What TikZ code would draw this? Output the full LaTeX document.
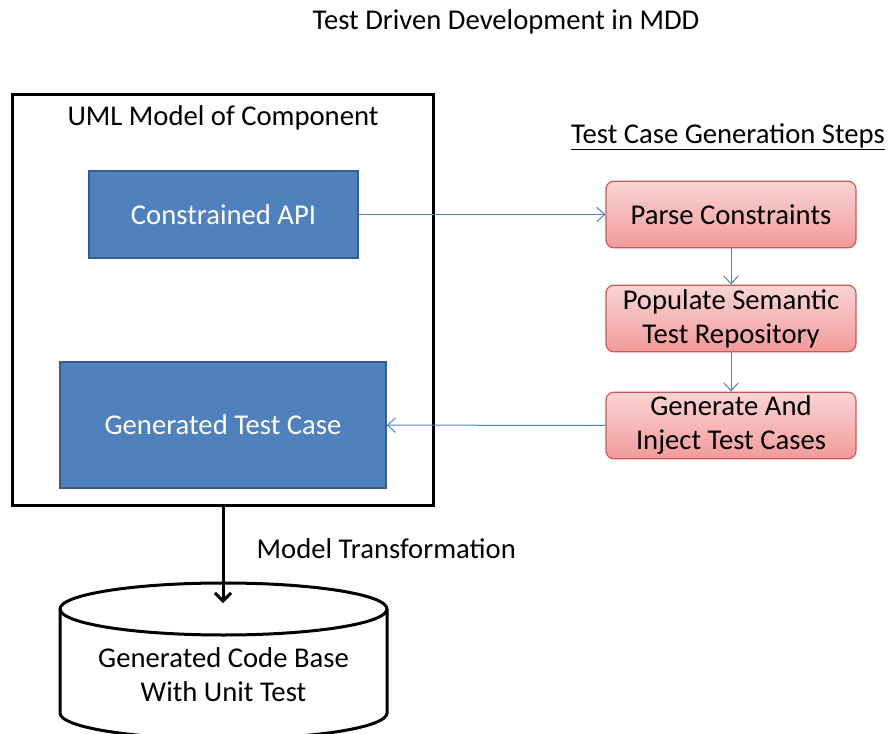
\documentclass[tikz,border=0pt]{standalone}
\usepackage{fontspec}
\setmainfont{Carlito}
\usetikzlibrary{arrows.meta}

\definecolor{apiblue}{HTML}{4F81BD}
\definecolor{apiedge}{HTML}{385D8A}
\definecolor{steptop}{HTML}{FAD4D4}
\definecolor{stepbot}{HTML}{F29A9A}
\definecolor{stepedge}{HTML}{C9595A}

\tikzset{
  apibox/.style={draw=apiedge, line width=1.2pt, fill=apiblue, text=white},
  stepbox/.style={draw=stepedge, line width=0.9pt, rounded corners=6pt,
    top color=steptop, bottom color=stepbot, align=center,
    minimum width=187.5pt, minimum height=50pt, inner sep=1pt},
  flow/.style={draw=apiblue, line width=0.75pt, -{Straight Barb[length=6pt,width=11pt]}},
  heavy/.style={line width=2.25pt}
}

\begin{document}
\begin{tikzpicture}[x=0.75pt, y=-0.75pt, font=\fontsize{21.5}{25.5}\selectfont]
		\useasboundingbox (0,0) rectangle (889,734);
		\clip (0,0) rectangle (889,734);

		\node (title) at (506, 22) {Test Driven Development in MDD};

		% component model
		\node[draw, heavy, minimum width=315.75pt, minimum height=307.5pt] (uml) at (222.5, 300) {};
		\node (umllabel) at (223, 118) {UML Model of Component};
		\node[apibox, minimum width=201.75pt, minimum height=65.25pt] (api) at (223.5, 214.5) {Constrained API};
		\node[apibox, minimum width=244.5pt, minimum height=94.5pt] (gtc) at (223, 425) {Generated Test Case};

		% generation steps
		\node (steps) at (728, 137) {\underline{Test Case Generation Steps}};
		\node[stepbox] (parse) at (731, 214.5) {Parse Constraints};
		\node[stepbox] (populate) at (731, 318.5) {Populate Semantic\\Test Repository};
		\node[stepbox] (inject) at (731, 425.5) {Generate And\\Inject Test Cases};

		\draw[flow] (api) -- (parse);
		\draw[flow] (parse) -- (populate);
		\draw[flow] (populate) -- (inject);
		\draw[flow] (inject) -- (gtc);

		% code base cylinder
		\draw[heavy, fill=white] (60, 609) -- (60, 713) arc[start angle=180, end angle=0, x radius=163.5, y radius=26]
			-- (387, 609) arc[start angle=0, end angle=-180, x radius=163.5, y radius=26] -- cycle;
		\draw[heavy] (60, 609) arc[start angle=180, end angle=0, x radius=163.5, y radius=26];
		\node[align=center] (base) at (223.5, 675) {Generated Code Base\\With Unit Test};
		\coordinate (basetop) at (223, 603);

		\draw[heavy, -{Straight Barb[length=6pt,width=12pt]}] (uml.south -| basetop) -- (basetop);
		\node[anchor=west] (mt) at (252, 549) {Model Transformation};
\end{tikzpicture}
\end{document}
